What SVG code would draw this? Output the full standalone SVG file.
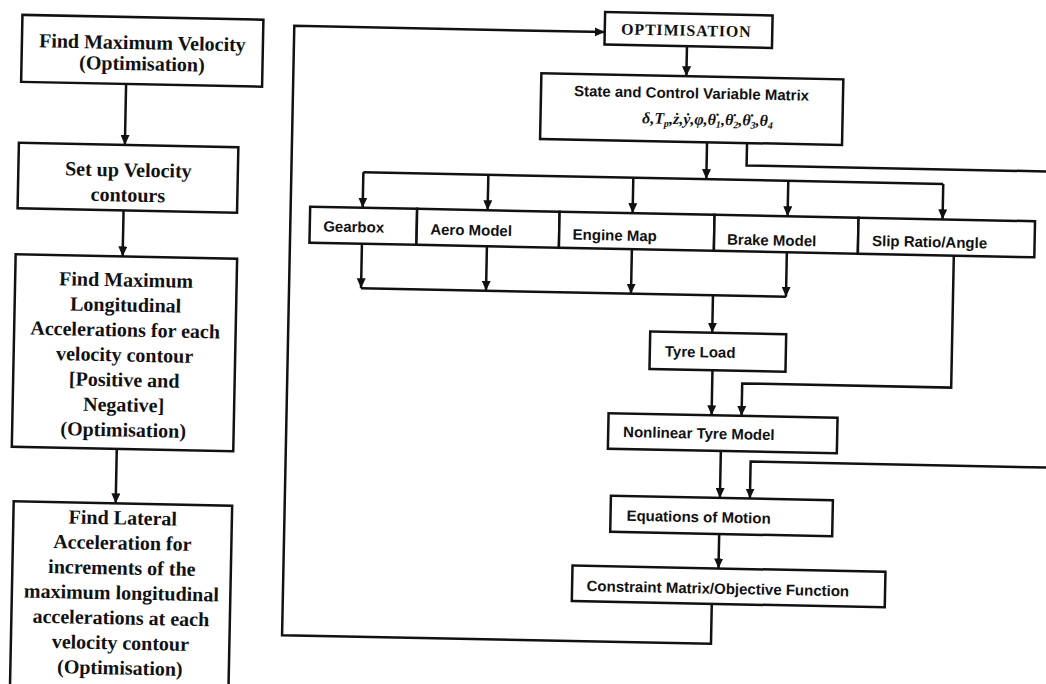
<svg xmlns="http://www.w3.org/2000/svg" width="1046" height="684" viewBox="0 0 1046 684">
<style>
.box{fill:#fff;stroke:#111;stroke-width:2.5}
.ln{fill:none;stroke:#111;stroke-width:2.5}
.l{font-family:"Liberation Serif","Times New Roman",serif;font-weight:bold;font-size:20px;fill:#111;text-anchor:middle}
.r{font-family:"Liberation Sans",Arial,sans-serif;font-weight:bold;font-size:15px;fill:#111}
.opt{font-family:"Liberation Serif","Times New Roman",serif;font-weight:bold;font-size:16px;fill:#111;text-anchor:middle;letter-spacing:0.8px}
.f{font-family:"Liberation Serif","Times New Roman",serif;font-weight:bold;font-style:italic;font-size:16px;fill:#111;text-anchor:middle}
</style>
<defs>
<marker id="ah" markerUnits="userSpaceOnUse" markerWidth="10" markerHeight="9" refX="10" refY="4.5" orient="auto">
<path d="M0,0 L10,4.5 L0,9 z" fill="#111"/>
</marker>
</defs>
<rect width="1046" height="684" fill="#fff"/>
<g transform="rotate(1.15 523 342)">
<g id="connectors">
<path class="ln" d="M121,92 V153" marker-end="url(#ah)"/>
<path class="ln" d="M121,218.5 V264.5" marker-end="url(#ah)"/>
<path class="ln" d="M119,457 V511.5" marker-end="url(#ah)"/>
<path class="ln" d="M717,600 V640 H288 V30.5 H598.5" marker-end="url(#ah)"/>
<path class="ln" d="M681,43 V73" marker-end="url(#ah)"/>
<path class="ln" d="M703,138.6 V175.5" marker-end="url(#ah)"/>
<path class="ln" d="M360,175.5 H940"/>
<path class="ln" d="M360,175.5 V211" marker-end="url(#ah)"/>
<path class="ln" d="M485,175.5 V211" marker-end="url(#ah)"/>
<path class="ln" d="M630,175.5 V211" marker-end="url(#ah)"/>
<path class="ln" d="M785,175.5 V211" marker-end="url(#ah)"/>
<path class="ln" d="M940,175.5 V211" marker-end="url(#ah)"/>
<path class="ln" d="M360,247 V291.5" marker-end="url(#ah)"/>
<path class="ln" d="M485,247 V291.5" marker-end="url(#ah)"/>
<path class="ln" d="M630,247 V291.5" marker-end="url(#ah)"/>
<path class="ln" d="M785,247 V291.5" marker-end="url(#ah)"/>
<path class="ln" d="M360,291.5 H785"/>
<path class="ln" d="M712,291.5 V329" marker-end="url(#ah)"/>
<path class="ln" d="M713,366.5 V411.5" marker-end="url(#ah)"/>
<path class="ln" d="M952,247 V379 H743 V411.5" marker-end="url(#ah)"/>
<path class="ln" d="M743,138.6 V161 H1080"/>
<path class="ln" d="M723,447 V494" marker-end="url(#ah)"/>
<path class="ln" d="M1080,457 H753 V494" marker-end="url(#ah)"/>
<path class="ln" d="M723,530 V564.5" marker-end="url(#ah)"/>
</g>
<g id="n-maxvel">
<rect class="box" x="16" y="25" width="241" height="67"/>
<text class="l" x="136.5" y="57">Find Maximum Velocity</text>
<text class="l" x="136.5" y="78">(Optimisation)</text>
</g>
<g id="n-contours">
<rect class="box" x="15" y="153" width="219.5" height="65.5"/>
<text class="l" x="125" y="184.5">Set up Velocity</text>
<text class="l" x="125" y="209.5">contours</text>
</g>
<g id="n-longacc">
<rect class="box" x="14" y="264.5" width="221.5" height="192.5"/>
<text class="l" x="125" y="294.5">Find Maximum</text>
<text class="l" x="125" y="319.5">Longitudinal</text>
<text class="l" x="125" y="344.5">Accelerations for each</text>
<text class="l" x="125" y="369.5">velocity contour</text>
<text class="l" x="125" y="394.5">[Positive and</text>
<text class="l" x="125" y="419.5">Negative]</text>
<text class="l" x="125" y="444.5">(Optimisation)</text>
</g>
<g id="n-latacc">
<rect class="box" x="17" y="511.5" width="218.5" height="220"/>
<text class="l" x="126.5" y="532.5">Find Lateral</text>
<text class="l" x="126.5" y="557.5">Acceleration for</text>
<text class="l" x="126.5" y="582.5">increments of the</text>
<text class="l" x="126.5" y="607.5">maximum longitudinal</text>
<text class="l" x="126.5" y="632.5">accelerations at each</text>
<text class="l" x="126.5" y="657.5">velocity contour</text>
<text class="l" x="126.5" y="682.5">(Optimisation)</text>
</g>
<g id="n-optimisation">
<rect class="box" x="598.5" y="10.5" width="167.5" height="32.5"/>
<text class="opt" x="680" y="32.5">OPTIMISATION</text>
</g>
<g id="n-state">
<rect class="box" x="536" y="73" width="302" height="65.6"/>
<text class="r" x="686.5" y="95" text-anchor="middle">State and Control Variable Matrix</text>
<text class="f" x="703" y="121">δ,T<tspan font-size="10" dy="3">p</tspan><tspan dy="-3">,ż,ẏ,φ,θ̇</tspan><tspan font-size="10" dy="3">1</tspan><tspan dy="-3">,θ̇</tspan><tspan font-size="10" dy="3">2</tspan><tspan dy="-3">,θ̇</tspan><tspan font-size="10" dy="3">3</tspan><tspan dy="-3">,θ</tspan><tspan font-size="10" dy="3">4</tspan></text>
</g>
<g id="n-gearbox">
<rect class="box" x="307.5" y="211" width="107" height="36"/>
<text class="r" x="321" y="235.5">Gearbox</text>
</g>
<g id="n-aero">
<rect class="box" x="414.5" y="211" width="142.5" height="36"/>
<text class="r" x="428" y="236.4">Aero Model</text>
</g>
<g id="n-engine">
<rect class="box" x="557" y="211" width="155" height="36"/>
<text class="r" x="570.5" y="238.6">Engine Map</text>
</g>
<g id="n-brake">
<rect class="box" x="712" y="211" width="144" height="36"/>
<text class="r" x="725" y="240.4">Brake Model</text>
</g>
<g id="n-slip">
<rect class="box" x="856" y="211" width="176.5" height="36"/>
<text class="r" x="870" y="239">Slip Ratio/Angle</text>
</g>
<g id="n-tyreload">
<rect class="box" x="650" y="329" width="136" height="37.5"/>
<text class="r" x="665" y="353.6">Tyre Load</text>
</g>
<g id="n-nonlinear">
<rect class="box" x="610" y="411.5" width="229" height="35.5"/>
<text class="r" x="625" y="435">Nonlinear Tyre Model</text>
</g>
<g id="n-eom">
<rect class="box" x="614" y="494" width="222" height="36"/>
<text class="r" x="630" y="518.6">Equations of Motion</text>
</g>
<g id="n-constraint">
<rect class="box" x="577" y="564.5" width="313" height="35.5"/>
<text class="r" x="591.5" y="589.8">Constraint Matrix/Objective Function</text>
</g>
</g>
</svg>
